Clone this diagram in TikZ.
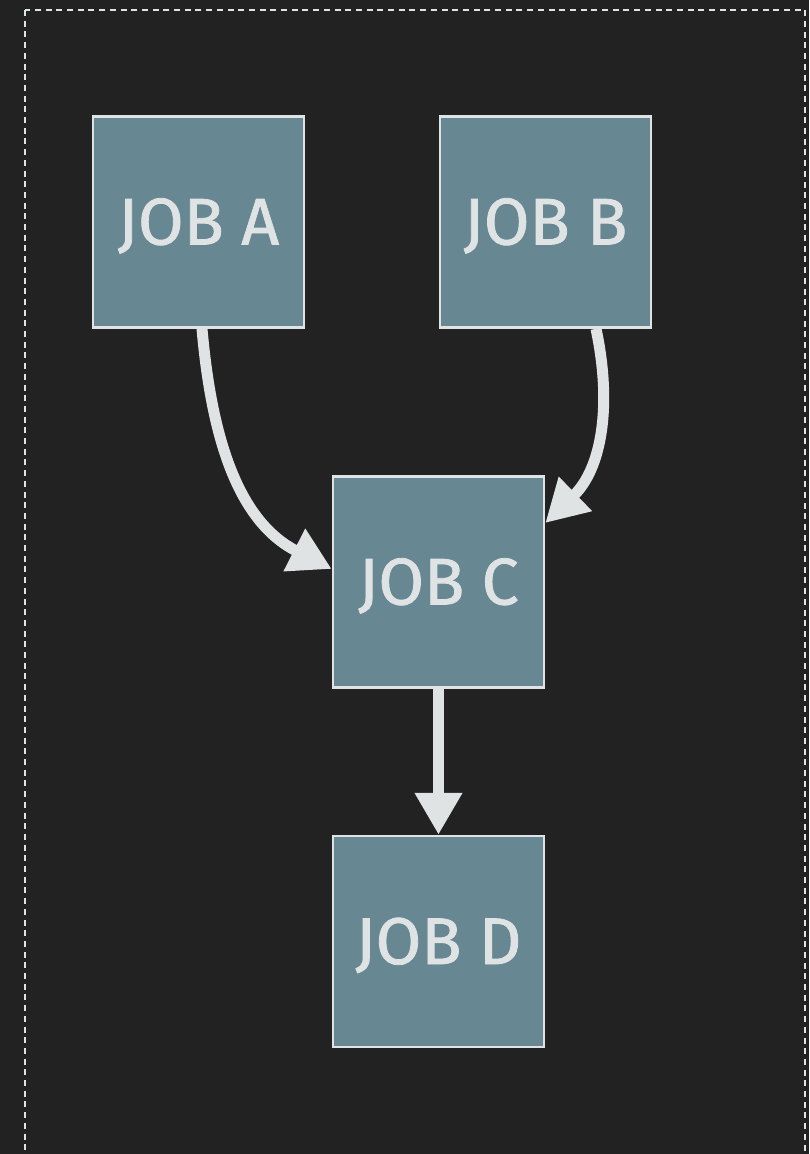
\documentclass[tikz,border=0pt]{standalone}
\usepackage{fontspec}
\setmainfont{Fira Sans}
\newfontfamily\jobfont{Fira Sans}[FakeBold=1.2]
\usetikzlibrary{arrows.meta}
\definecolor{bg}{HTML}{222222}
\definecolor{jobfill}{HTML}{678893}
\definecolor{ink}{HTML}{DFE3E3}
\begin{document}
\begin{tikzpicture}[x=1pt,y=-1pt,
  job/.style={draw=ink, line width=2.5pt, fill=jobfill, minimum width=211pt,
    minimum height=211pt, inner sep=0pt, text=ink, text height=45pt, text depth=0pt,
    font=\jobfont\fontsize{66}{70}\selectfont},
  flow/.style={draw=ink, line width=11pt, -{Triangle[length=42pt,width=45pt]}}]
  % canvas and dashed frame (its lower edge runs past the page)
  \fill[bg] (0,0) rectangle (809,1154);
  \useasboundingbox (0,0) rectangle (809,1154);
  \begin{scope}
    \clip (0,0) rectangle (809,1154);
    \draw[ink, line width=2.6pt, dash pattern=on 6pt off 4.7pt] (25,10) rectangle (805,1180);
  \end{scope}
  % jobs
  \node[job] (A) at (198.5,222) {JOB A};
  \node[job] (B) at (545.5,222) {JOB B};
  \node[job] (C) at (438.5,582) {JOB C};
  \node[job] (D) at (438.5,941.5) {JOB D};
  % dependencies
  \draw[flow] ([xshift=3.5pt]A.south) to[out=-85, in=153] ([yshift=13pt]C.west);
  \draw[flow] ([xshift=50.5pt]B.south) to[out=-78, in=44] ([yshift=59pt]C.east);
  \draw[flow] (C.south) -- (D.north);
\end{tikzpicture}
\end{document}
